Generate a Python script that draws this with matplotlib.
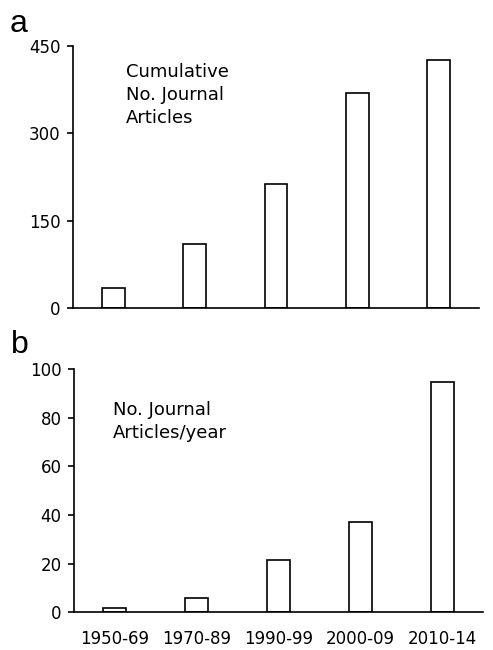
import matplotlib
matplotlib.use('Agg')
import matplotlib.pyplot as plt
import numpy as np

periods = ['1950-69', '1970-89', '1990-99', '2000-09', '2010-14']
cumulative = [34, 110, 213, 369, 426]
per_year = [1.9, 5.7, 21.6, 37.2, 94.8]

plt.rcParams['font.family'] = ['DejaVu Sans']
plt.rcParams['font.size'] = 12


def style_axis(ax, ymax, yticks):
    ax.set_xlim(-0.5, 4.5)
    ax.set_ylim(0, ymax)
    ax.set_yticks(yticks)
    for side in ['top', 'right']:
        ax.spines[side].set_visible(False)
    for side in ['left', 'bottom']:
        ax.spines[side].set_linewidth(1.2)
    ax.tick_params(axis='y', direction='out', length=4, width=1.2, pad=5, labelsize=12)
    ax.tick_params(axis='x', length=0, labelsize=12, pad=13)


fig = plt.figure(figsize=(4.93, 6.5), dpi=100)
ax1 = fig.add_axes([0.148, 0.526, 0.824, 0.403])
ax2 = fig.add_axes([0.150, 0.058, 0.830, 0.374])

x = np.arange(len(periods))
ax1.bar(x, cumulative, width=0.28, color='white', edgecolor='black', linewidth=1.2)
style_axis(ax1, 450, [0, 150, 300, 450])
ax1.set_xticks(x)
ax1.set_xticklabels([])
ax1.text(0.13, 0.935, 'Cumulative\nNo. Journal\nArticles', transform=ax1.transAxes,
         fontsize=13, va='top', ha='left', linespacing=1.35)

ax2.bar(x, per_year, width=0.28, color='white', edgecolor='black', linewidth=1.2)
style_axis(ax2, 100, [0, 20, 40, 60, 80, 100])
ax2.set_xticks(x)
ax2.set_xticklabels(periods)
ax2.text(0.095, 0.87, 'No. Journal\nArticles/year', transform=ax2.transAxes,
         fontsize=13, va='top', ha='left', linespacing=1.35)

fig.text(10 / 493, 1 - 32 / 650, 'a', fontsize=23, family='Liberation Sans', va='baseline')
fig.text(11 / 493, 1 - 353 / 650, 'b', fontsize=23, family='Liberation Sans', va='baseline')

fig.savefig('out.png', dpi=100)
